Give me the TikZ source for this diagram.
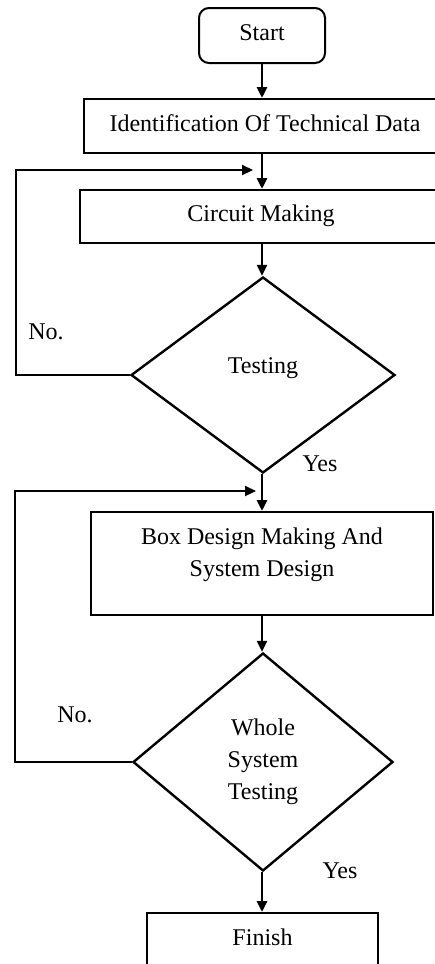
\documentclass[tikz,border=0pt]{standalone}
\usepackage{fontspec}
\setmainfont{Liberation Serif}
\usetikzlibrary{positioning, arrows.meta, shapes.geometric, calc}
\tikzstyle{arrow} = [line width=2.8pt, black, -{Triangle[length=11pt,width=10pt]}]
\tikzstyle{loopline} = [line width=2.2pt, black, -{Triangle[length=11pt,width=10pt]}]
\tikzset{
  startstop/.style={rectangle, rounded corners=10pt, draw, line width=2pt, minimum width=126pt, minimum height=55pt},
  process/.style={rectangle, draw, line width=2pt},
  oneline/.style={text height=17pt, text depth=7pt},
  decision/.style={diamond, draw, line width=2.4pt, inner sep=0pt, align=center}
}
\begin{document}
\begin{tikzpicture}[x=1pt, y=-1pt, font=\fontsize{24}{32}\selectfont]
  \useasboundingbox (0,0) rectangle (435,964);
  \clip (0,0) rectangle (435,964);

  % Start and first steps
  \node[startstop, oneline] (start) at (262,35.5) {Start};
  \node[process, oneline, minimum width=362pt, minimum height=54pt] (ident) at (265,126) {Identification Of Technical Data};
  \node[process, oneline, minimum width=363pt, minimum height=53pt] (circuit) at (261,216.5) {Circuit Making};

  % First test
  \node[decision, minimum width=264pt, minimum height=196pt, text height=17pt, text depth=21pt] (test) at (263,375) {Testing};

  % Box and system design
  \node[process, align=center, minimum width=342pt, minimum height=103pt, text depth=22pt] (design) at (262,563.5) {Box Design Making And\\System Design};

  % Whole system test
  \node[decision, minimum width=260pt, minimum height=218pt] (whole) at (263,762) {Whole\\System\\Testing};

  % Finish
  \node[process, anchor=north, minimum width=231pt, inner ysep=15pt, text height=17pt, text depth=40pt] (finish) at (262.5,912) {Finish};

  % Main flow
  \draw[arrow] (start.south) -- (start.south |- ident.north);
  \draw[arrow] (start.south |- ident.south) -- (start.south |- circuit.north);
  \draw[arrow] (start.south |- circuit.south) -- (start.south |- test.north);
  \draw[arrow] (start.south |- test.south) -- (start.south |- design.north);
  \draw[arrow] (start.south |- design.south) -- (start.south |- whole.north);
  \draw[arrow] (start.south |- whole.south) -- (start.south |- finish.north);

  % Feedback loops
  \coordinate (join1) at (253,170);
  \coordinate (join2) at (256,491);
  \draw[loopline] (test.west) -- ++(-114,0) |- (join1);
  \draw[loopline] (whole.west) -- ++(-117,0) |- (join2);

  % Answers
  \node at (46,332) {No.};
  \node at (320,463.5) {Yes};
  \node at (75,715) {No.};
  \node at (340,870.5) {Yes};
\end{tikzpicture}
\end{document}
